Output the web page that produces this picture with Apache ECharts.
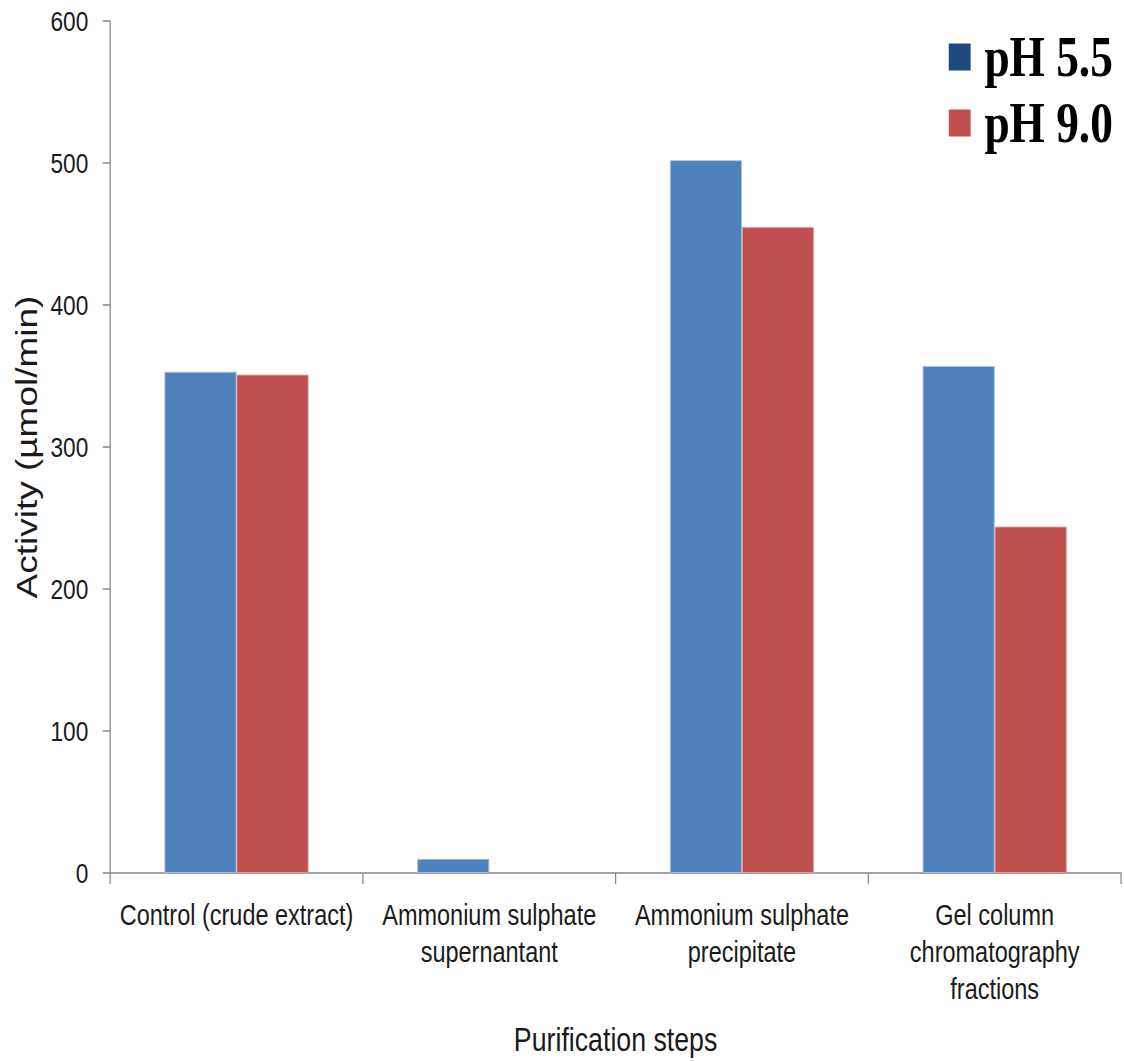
<!DOCTYPE html>
<html>
<head>
<meta charset="utf-8">
<title>Activity across purification steps</title>
<script src="https://cdn.jsdelivr.net/npm/echarts@6/dist/echarts.min.js"></script>
<style>
  html, body { margin: 0; padding: 0; background: #ffffff; overflow: hidden; }
  #frame { width: 1124px; height: 1061px; overflow: hidden; position: relative; }
  /* The chart is laid out wider and squeezed horizontally to give condensed lettering */
  #chart {
    width: 1388px; height: 1061px;
    position: absolute; left: 0; top: 0;
    transform: scaleX(0.81); transform-origin: 0 0;
  }
</style>
</head>
<body>
<div id="frame"><div id="chart"></div></div>
<script>
// Purification steps (category axis)
const categories = [
  'Control (crude extract)',
  'Ammonium sulphate\nsupernantant',
  'Ammonium sulphate\nprecipitate',
  'Gel column\nchromatography\nfractions'
];

// Enzyme activity (µmol/min) at each pH
const ph55 = [353, 10, 502, 357];
const ph90 = [351, 0, 455, 244];

// Value axis ticks
const yTicks = [0, 100, 200, 300, 400, 500, 600];

const sans = '"Liberation Sans", Arial, sans-serif';
const axisGray = '#868686';
const textColor = '#1a1a1a';

// Zero-height bars get no outline so nothing is drawn for them
function barData(values) {
  return values.map(function (v) {
    return v === 0 ? { value: v, itemStyle: { borderWidth: 0 } } : v;
  });
}

const chart = echarts.init(document.getElementById('chart'), null, { renderer: 'svg' });

chart.setOption({
  backgroundColor: '#ffffff',
  animation: false,
  grid: { left: 136, right: 4, top: 21, bottom: 188, containLabel: false, outerBoundsMode: 'none' },
  legend: {
    orient: 'vertical',
    right: 9,
    top: 24,
    icon: 'rect',
    itemWidth: 27,
    itemHeight: 27,
    itemGap: 10,
    align: 'left',
    textStyle: {
      fontFamily: '"Liberation Serif", "Times New Roman", serif',
      fontWeight: 'bold',
      fontSize: 56,
      color: '#000000',
      padding: [0, 0, 0, 12]
    },
    data: [
      { name: 'pH 5.5', itemStyle: { color: '#1F4A7E', borderWidth: 0 } },
      { name: 'pH 9.0', itemStyle: { color: '#C0504D', borderWidth: 0 } }
    ]
  },
  xAxis: {
    type: 'category',
    data: categories,
    boundaryGap: true,
    name: 'Purification steps',
    nameLocation: 'middle',
    nameGap: 150,
    nameTextStyle: { fontFamily: sans, fontSize: 33, color: textColor },
    axisLine: { show: true, lineStyle: { color: axisGray, width: 1.5 } },
    axisTick: { show: true, length: 11, lineStyle: { color: axisGray, width: 1.5 } },
    axisLabel: {
      interval: 0,
      margin: 24,
      fontFamily: sans,
      fontSize: 29,
      lineHeight: 37,
      color: textColor
    },
    splitLine: { show: false }
  },
  yAxis: {
    type: 'value',
    min: 0,
    max: 600,
    interval: 100,
    name: 'Activity (µmol/min)',
    nameLocation: 'middle',
    nameGap: 80,
    nameRotate: 90,
    nameTextStyle: { fontFamily: sans, fontSize: 37, color: textColor },
    axisLine: { show: true, lineStyle: { color: axisGray, width: 1.5 } },
    axisTick: { show: true, length: 9, lineStyle: { color: axisGray, width: 1.5 } },
    axisLabel: {
      margin: 27,
      fontFamily: sans,
      fontSize: 28,
      color: textColor,
      formatter: function (v) { return yTicks.indexOf(v) >= 0 ? String(v) : ''; }
    },
    splitLine: { show: false }
  },
  series: [
    {
      name: 'pH 5.5',
      type: 'bar',
      data: barData(ph55),
      barGap: '0%',
      barCategoryGap: '43%',
      itemStyle: { color: '#4F81BD', borderColor: '#A9C0E0', borderWidth: 1 }
    },
    {
      name: 'pH 9.0',
      type: 'bar',
      data: barData(ph90),
      barGap: '0%',
      barCategoryGap: '43%',
      itemStyle: { color: '#C0504D', borderColor: '#DDA2A0', borderWidth: 1 }
    }
  ]
});
</script>
</body>
</html>
